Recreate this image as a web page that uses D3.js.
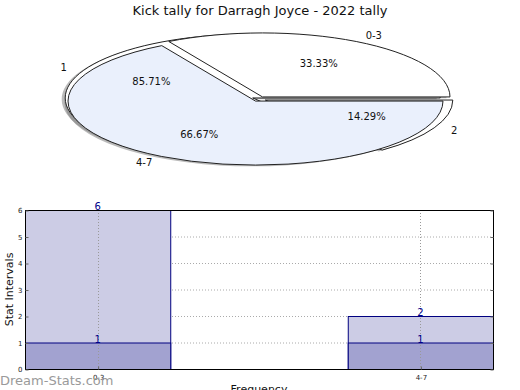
<!DOCTYPE html>
<html><head><meta charset="utf-8">
<script src="https://cdn.jsdelivr.net/npm/d3@7"></script>
<style>body{margin:0;background:#fff}svg{display:block}text{font-family:"DejaVu Sans",sans-serif}</style>
</head><body>
<svg id="c" width="520" height="390"></svg>
<script>
const title = "Kick tally for Darragh Joyce - 2022 tally";
const pieOuterLabels = ["0-3","4-7"];
const pieOuterValues = [33.33, 66.67];
const pieInnerLabels = ["1","2"];
const pieInnerValues = [85.71, 14.29];
const barCategories = ["0-3","4-7"];
const barTotal = [6, 2];
const barBase = [1, 1];
const yTicks = [0,1,2,3,4,5,6];

const svg = d3.select("#c");
svg.append("text").attr("x",260).attr("y",15).attr("text-anchor","middle")
  .attr("font-size",13).attr("fill","#111").text(title);

// ---- Pie ----
const cx = 259, cy = 99, rx = 187.5, ry = 64;
const k = ry/rx, ex = 0.0373;
const pieGen = d3.pie().sort(null).startAngle(Math.PI/2).endAngle(Math.PI/2 - 2*Math.PI);
const arc = d3.arc().innerRadius(0).outerRadius(rx);
const A = pieGen(pieOuterValues), B = pieGen(pieInnerValues);
function mid(d){return (d.startAngle+d.endAngle)/2;}
function off(d){const m=mid(d);return [Math.sin(m)*ex*rx, -Math.cos(m)*ex*rx*k];}
const pg = svg.append("g");
function wedge(d, dx, dy, fill, stroke, op){
  const [ox,oy]=off(d);
  pg.append("path").attr("d",arc(d))
    .attr("transform",`translate(${cx+ox+dx},${cy+oy+dy}) scale(1,${k})`)
    .attr("fill",fill).attr("fill-opacity",op==null?1:op)
    .attr("stroke",stroke).attr("stroke-width",1).attr("vector-effect","non-scaling-stroke");
}
[...B,...A].forEach(d=>wedge(d,-3.5,1.3,"#777","none",0.5));
B.forEach(d=>wedge(d,0,0,"#ffffff","#222"));
const aFill=["#ffffff","#eaf0fc"];
A.forEach((d,i)=>wedge(d,0,0,aFill[i],"#222"));
function lab(d, f, txt, anchorBySide){
  const m=mid(d); const [ox,oy]=off(d);
  const sx=Math.sin(m);
  pg.append("text").attr("x",cx+ox+sx*rx*f).attr("y",cy+oy-Math.cos(m)*ry*f)
    .attr("text-anchor",anchorBySide?(sx>0?"start":"end"):"middle")
    .attr("dominant-baseline","central")
    .attr("font-size",10).attr("fill","#111").text(txt);
}
A.forEach((d,i)=>{lab(d,1.1,pieOuterLabels[i],true);lab(d,0.6,pieOuterValues[i].toFixed(2)+"%",false);});
B.forEach((d,i)=>{lab(d,1.1,pieInnerLabels[i],true);lab(d,0.6,pieInnerValues[i].toFixed(2)+"%",false);});

// ---- Bars ----
const L=25, R=493, T=210, Bt=369;
const x = d3.scaleLinear().domain([-0.225,1.225]).range([L,R]);
const y = d3.scaleLinear().domain([0,6]).range([Bt,T]);
const bw = 0.45;
const g = svg.append("g");
g.selectAll(".hg").data(yTicks.slice(1,-1)).enter().append("line")
  .attr("x1",L).attr("x2",R).attr("y1",d=>y(d)+0.5).attr("y2",d=>y(d)+0.5)
  .attr("stroke","#aaa").attr("stroke-dasharray","1,2");
barCategories.forEach((c,i)=>{
  g.append("rect").attr("x",x(i-bw/2)+0.5).attr("y",y(barTotal[i])+0.5)
    .attr("width",x(bw)-x(0)).attr("height",y(0)-y(barTotal[i]))
    .attr("fill","#ccccE5").attr("stroke","#000080");
  g.append("rect").attr("x",x(i-bw/2)+0.5).attr("y",y(barBase[i])+0.5)
    .attr("width",x(bw)-x(0)).attr("height",y(0)-y(barBase[i]))
    .attr("fill","#a2a2d0").attr("stroke","#000080");
});
g.selectAll(".vg").data(barCategories).enter().append("line")
  .attr("x1",(d,i)=>Math.round(x(i))+0.5).attr("x2",(d,i)=>Math.round(x(i))+0.5)
  .attr("y1",T).attr("y2",Bt).attr("stroke","#999").attr("stroke-dasharray","1,2");
barCategories.forEach((c,i)=>{
  [barTotal[i],barBase[i]].forEach(v=>{
    g.append("text").attr("x",x(i)).attr("y",y(v)).attr("text-anchor","middle")
      .attr("font-size",10).attr("fill","#00008b").text(v);
  });
});
g.append("rect").attr("x",L+0.5).attr("y",T+0.5).attr("width",R-L).attr("height",Bt-T)
  .attr("fill","none").attr("stroke","#000");
const ya = d3.axisLeft(y).tickValues(yTicks).tickSize(-3).tickPadding(3).tickFormat(d3.format("d"));
const yg = svg.append("g").attr("transform",`translate(${L+0.5},0.5)`).call(ya);
yg.select(".domain").remove();
yg.selectAll("text").attr("font-size",7).attr("fill","#222");
yg.selectAll("line").attr("stroke","#666");
const ya2 = d3.axisRight(y).tickValues(yTicks).tickSize(-3).tickFormat("");
const yg2 = svg.append("g").attr("transform",`translate(${R+0.5},0.5)`).call(ya2);
yg2.select(".domain").remove(); yg2.selectAll("line").attr("stroke","#666");
const xa = d3.axisBottom(x).tickValues([0,1]).tickSize(-3).tickPadding(6).tickFormat(i=>barCategories[i]);
const xg = svg.append("g").attr("transform",`translate(0.5,${Bt+0.5})`).call(xa);
xg.select(".domain").remove();
xg.selectAll("text").attr("font-size",7).attr("fill","#222");
xg.selectAll("line").attr("stroke","#666");
svg.append("text").attr("transform",`translate(13,${(T+Bt)/2}) rotate(-90)`)
  .attr("text-anchor","middle").attr("font-size",11).attr("fill","#111").text("Stat Intervals");
svg.append("text").attr("x",259).attr("y",392.5).attr("text-anchor","middle")
  .attr("font-size",11).attr("fill","#111").text("Frequency");
svg.append("text").attr("x",0).attr("y",385).attr("font-size",13)
  .attr("fill","#9a9a9a").text("Dream-Stats.com");
</script>
</body></html>
